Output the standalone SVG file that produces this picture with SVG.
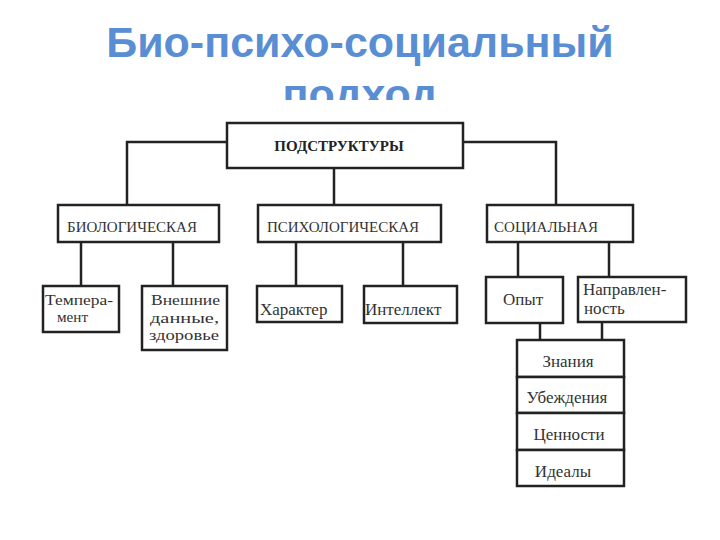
<svg xmlns="http://www.w3.org/2000/svg" width="720" height="540" viewBox="0 0 720 540">
<style>
.title{font-family:"Liberation Sans",Arial,sans-serif;font-weight:bold;font-size:43px;fill:#5A8ED4;text-anchor:middle}
.box{fill:#fff;stroke:#222;stroke-width:2.5}
.ln{fill:none;stroke:#222;stroke-width:2.5}
.cap{font-family:"Liberation Serif","Times New Roman",serif;font-size:15px;fill:#333;text-anchor:middle}
.hd{font-family:"Liberation Serif","Times New Roman",serif;font-size:15px;font-weight:bold;fill:#222;text-anchor:middle}
.t{font-family:"Liberation Serif","Times New Roman",serif;font-size:17px;fill:#333}
.s{font-family:"Liberation Serif","Times New Roman",serif;font-size:15px;fill:#333}
.tm{font-family:"Liberation Serif","Times New Roman",serif;font-size:17px;fill:#333;text-anchor:middle}
</style>
<defs>
<clipPath id="clipTitle"><rect x="0" y="0" width="720" height="100"/></clipPath>
</defs>
<rect width="720" height="540" fill="#fff"/>
<g id="title" clip-path="url(#clipTitle)">
<text class="title" x="360" y="57">Био-психо-социальный</text>
<text class="title" x="360" y="109">подход</text>
</g>
<g id="connectors">
<polyline class="ln" points="227,142 127,142 127,205"/>
<line class="ln" x1="334" y1="168" x2="334" y2="205"/>
<polyline class="ln" points="463,142 556,142 556,205"/>
<line class="ln" x1="81" y1="242" x2="81" y2="286"/>
<line class="ln" x1="173" y1="242" x2="173" y2="286"/>
<line class="ln" x1="296" y1="242" x2="296" y2="286"/>
<line class="ln" x1="403" y1="242" x2="403" y2="286"/>
<line class="ln" x1="518" y1="242" x2="518" y2="277"/>
<line class="ln" x1="609" y1="242" x2="609" y2="277"/>
<line class="ln" x1="540" y1="323" x2="540" y2="340"/>
<line class="ln" x1="602" y1="322" x2="602" y2="340"/>
</g>
<g id="podstruktury">
<rect class="box" x="227" y="123" width="236" height="45"/>
<text class="hd" x="339" y="151">ПОДСТРУКТУРЫ</text>
</g>
<g id="biologicheskaya">
<rect class="box" x="58" y="205" width="161" height="37"/>
<text class="cap" x="132" y="232">БИОЛОГИЧЕСКАЯ</text>
</g>
<g id="psikhologicheskaya">
<rect class="box" x="258" y="205" width="183" height="37"/>
<text class="cap" x="343" y="232">ПСИХОЛОГИЧЕСКАЯ</text>
</g>
<g id="socialnaya">
<rect class="box" x="487" y="205" width="146" height="37"/>
<text class="cap" x="546" y="232">СОЦИАЛЬНАЯ</text>
</g>
<g id="temperament">
<rect class="box" x="43" y="286" width="76" height="46"/>
<text class="s" x="45" y="305" textLength="68" lengthAdjust="spacingAndGlyphs">Темпера-</text>
<text class="s" x="57" y="322" textLength="31" lengthAdjust="spacingAndGlyphs">мент</text>
</g>
<g id="vneshnie">
<rect class="box" x="142" y="286" width="85" height="64"/>
<text class="s" x="151" y="305" textLength="69" lengthAdjust="spacingAndGlyphs">Внешние</text>
<text class="s" x="150" y="323" textLength="69" lengthAdjust="spacingAndGlyphs">данные,</text>
<text class="s" x="149" y="340" textLength="70" lengthAdjust="spacingAndGlyphs">здоровье</text>
</g>
<g id="kharakter">
<rect class="box" x="257" y="286" width="85" height="36"/>
<text class="t" x="260" y="315">Характер</text>
</g>
<g id="intellekt">
<rect class="box" x="364" y="286" width="93" height="37"/>
<text class="t" x="365" y="315">Интеллект</text>
</g>
<g id="opyt">
<rect class="box" x="486" y="277" width="77" height="46"/>
<text class="t" x="503" y="305">Опыт</text>
</g>
<g id="napravlennost">
<rect class="box" x="578" y="277" width="108" height="45"/>
<text class="t" x="583" y="295">Направлен-</text>
<text class="t" x="584" y="314">ность</text>
</g>
<g id="znaniya">
<rect class="box" x="517" y="340" width="107" height="37"/>
<text class="tm" x="568" y="367">Знания</text>
</g>
<g id="ubezhdeniya">
<rect class="box" x="517" y="377" width="107" height="36"/>
<text class="tm" x="567" y="403">Убеждения</text>
</g>
<g id="cennosti">
<rect class="box" x="517" y="413" width="107" height="37"/>
<text class="tm" x="569" y="440">Ценности</text>
</g>
<g id="idealy">
<rect class="box" x="517" y="450" width="107" height="36"/>
<text class="tm" x="563" y="477">Идеалы</text>
</g>
</svg>
